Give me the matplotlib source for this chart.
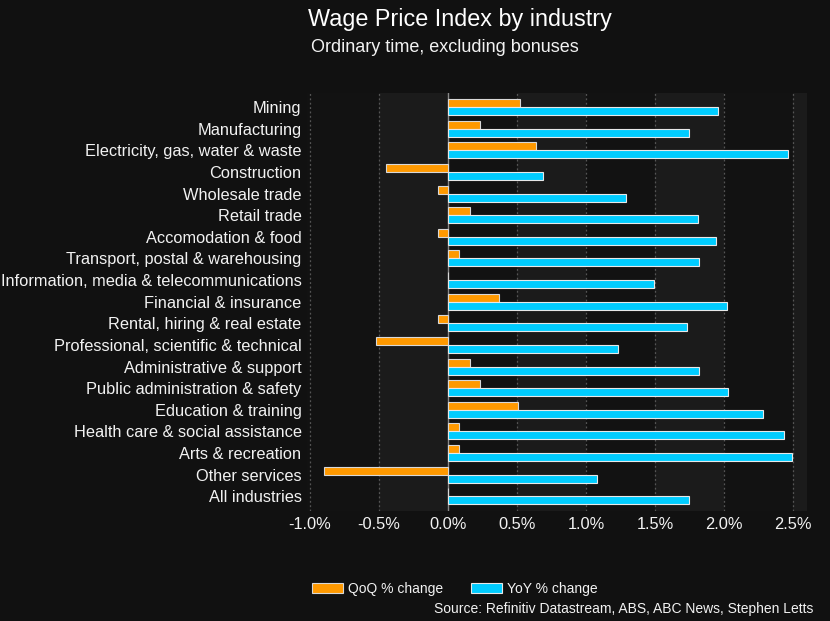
import matplotlib
matplotlib.use("Agg")
import matplotlib.pyplot as plt
import numpy as np
from matplotlib.patches import Patch

plt.rcParams['font.family'] = ['Liberation Sans', 'DejaVu Sans']

industries = [
    "Mining", "Manufacturing", "Electricity, gas, water & waste", "Construction",
    "Wholesale trade", "Retail trade", "Accomodation & food",
    "Transport, postal & warehousing", "Information, media & telecommunications",
    "Financial & insurance", "Rental, hiring & real estate",
    "Professional, scientific & technical", "Administrative & support",
    "Public administration & safety", "Education & training",
    "Health care & social assistance", "Arts & recreation", "Other services",
    "All industries",
]
qoq = [0.52, 0.23, 0.64, -0.45, -0.07, 0.16, -0.07, 0.08, 0.0, 0.37, -0.07,
       -0.52, 0.16, 0.23, 0.51, 0.08, 0.08, -0.90, 0.0]
yoy = [1.96, 1.75, 2.465, 0.69, 1.29, 1.81, 1.94, 1.82, 1.49, 2.02, 1.73,
       1.23, 1.82, 2.03, 2.28, 2.435, 2.49, 1.08, 1.745]
xticks = [-1.0, -0.5, 0.0, 0.5, 1.0, 1.5, 2.0, 2.5]
xticklabels = ["-1.0%", "-0.5%", "0.0%", "0.5%", "1.0%", "1.5%", "2.0%", "2.5%"]

BG = "#111111"
DARK = "#121212"
LIGHT = "#1b1b1b"
ORANGE = "#ff9900"
BLUE = "#00ccff"
TXT = "#f2f2f2"

fig = plt.figure(figsize=(8.30, 6.21), dpi=100, facecolor=BG)
ax = fig.add_axes([0.370, 0.177, 0.602, 0.674])
ax.set_facecolor(DARK)

xmin, xmax = -1.02, 2.60
# alternating bands
for i in range(len(xticks)):
    lo = xticks[i]
    hi = xticks[i + 1] if i + 1 < len(xticks) else xmax
    if i % 2 == 1:
        ax.axvspan(lo, hi, color=LIGHT, zorder=0, lw=0)

y = np.arange(len(industries))
h = 0.37
ax.barh(y - h / 2, qoq, height=h, color=ORANGE, edgecolor="#d8d8d8",
        linewidth=0.8, zorder=3)
ax.barh(y + h / 2, yoy, height=h, color=BLUE, edgecolor="#e8e8e8",
        linewidth=0.8, zorder=3)

ax.axvline(0, color="#8a8a8a", lw=1.0, zorder=2)
for t in xticks:
    if t != 0:
        ax.axvline(t, color="#555555", lw=0.9, ls=(0, (1.5, 2)), zorder=1)

ax.set_xlim(xmin, xmax)
ax.set_ylim(18.69, -0.68)
ax.set_yticks(y)
ax.set_yticklabels(industries, color=TXT, fontsize=11.8)
ax.set_xticks(xticks)
ax.set_xticklabels(xticklabels, color=TXT, fontsize=11.8)
ax.tick_params(axis='both', length=0, pad=4)
for s in ax.spines.values():
    s.set_visible(False)

fig.text(0.554, 0.969, "Wage Price Index by industry", ha="center", va="center",
         color="white", fontsize=16.8)
fig.text(0.5355, 0.924, "Ordinary time, excluding bonuses", ha="center",
         va="center", color=TXT, fontsize=13)

handles = [Patch(facecolor=ORANGE, edgecolor="#d8d8d8", lw=0.8, label="QoQ % change"),
           Patch(facecolor=BLUE, edgecolor="#e8e8e8", lw=0.8, label="YoY % change")]
leg = fig.legend(handles=handles, loc="center", bbox_to_anchor=(0.548, 0.052),
                 ncol=2, frameon=False, fontsize=10, handlelength=2.2,
                 handleheight=0.8, columnspacing=2.0, handletextpad=0.4)
for t in leg.get_texts():
    t.set_color(TXT)

fig.text(0.980, 0.019, "Source: Refinitiv Datastream, ABS, ABC News, Stephen Letts",
         ha="right", va="center", color=TXT, fontsize=10)

fig.savefig("out.png", dpi=100, facecolor=BG)
